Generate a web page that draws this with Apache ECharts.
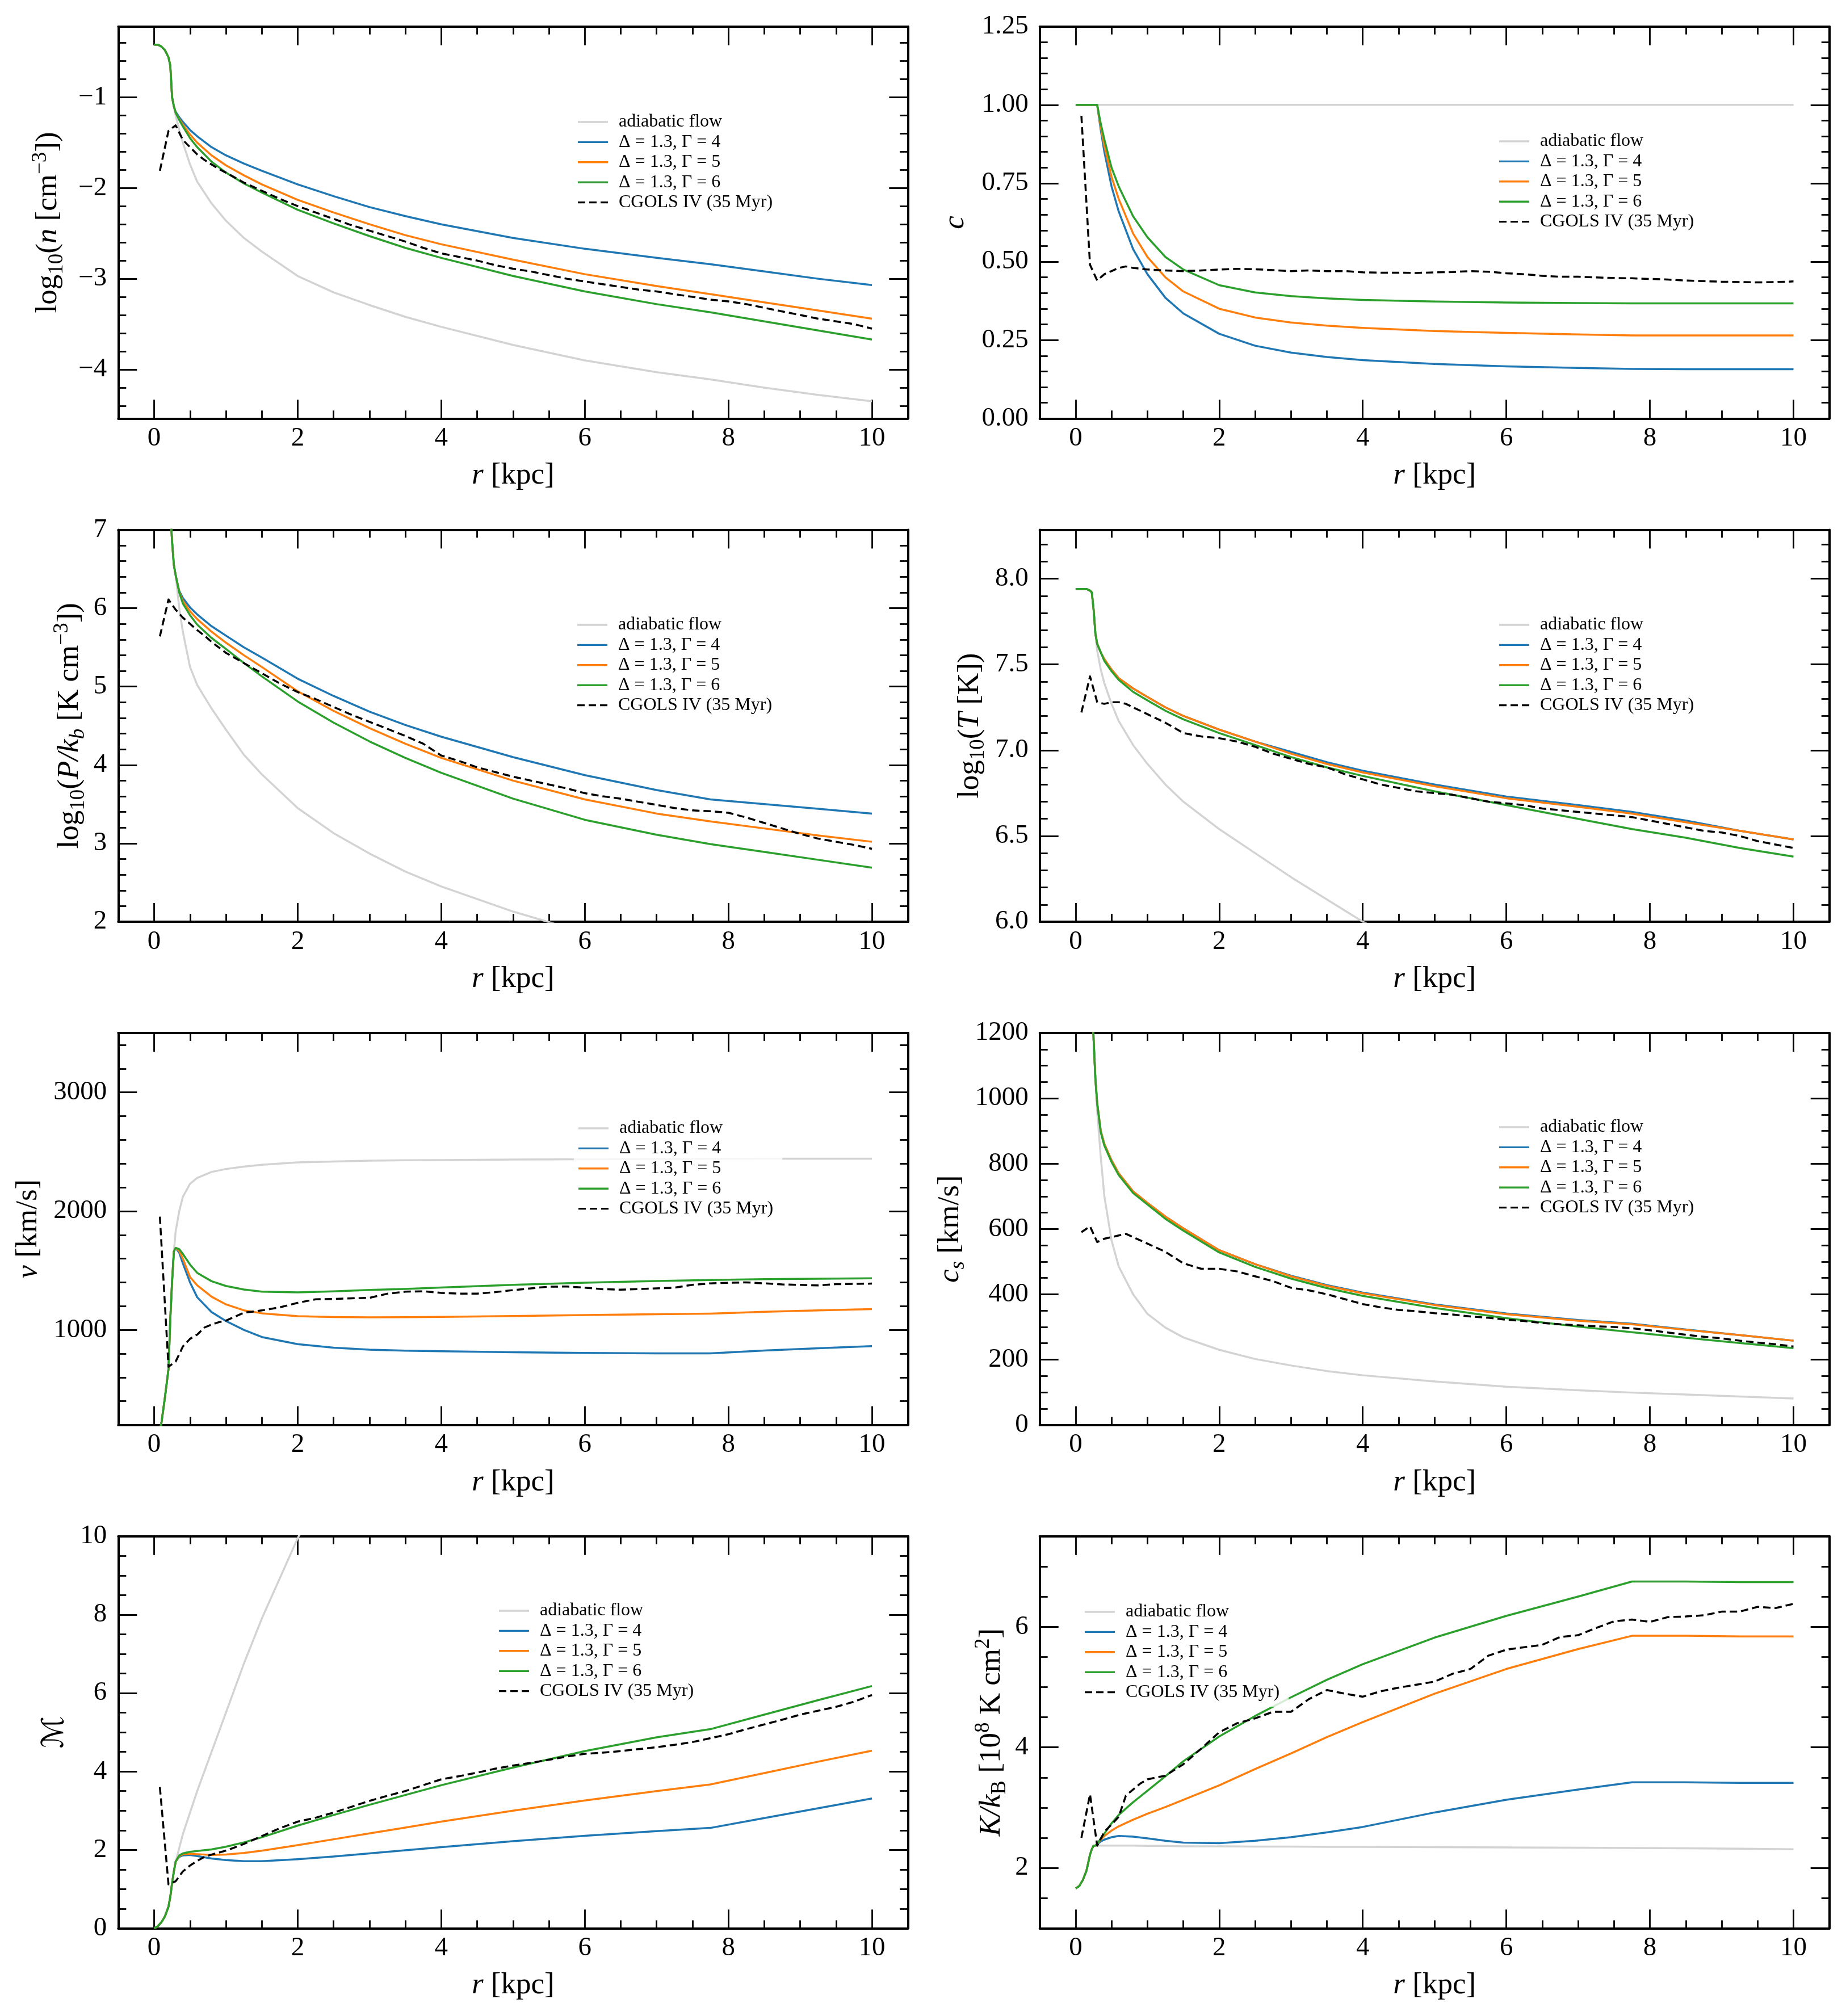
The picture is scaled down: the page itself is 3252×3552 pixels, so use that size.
<!DOCTYPE html>
<html><head><meta charset="utf-8">
<script src="https://cdn.jsdelivr.net/npm/echarts@6/dist/echarts.min.js"></script>
<style>html,body{margin:0;padding:0;background:#fff}#c{width:3252px;height:3552px}</style>
</head><body><div id="c"></div>
<script>
// ---------------- data ----------------
const R_MODEL = [0,0.05,0.1,0.15,0.2,0.225,0.25,0.275,0.3, 0.35,0.4,0.5,0.6,0.8,1,1.25,1.5, 2,2.5,3,3.5,4, 5,6,7,7.75,8.5,9.25,10];
const R_CGOLS = [0.08,0.2,0.3,0.4,0.5,0.6,0.7,0.8,0.9,1,1.25,1.5,1.75,2,2.25,2.5,2.75,3,3.25,3.5,3.75,4,4.25,4.5,4.75,5,5.25,5.5,5.75,6,6.25,6.5,6.75,7,7.25,7.5,7.75,8,8.25,8.5,8.75,9,9.25,9.5,9.75,10];
const SERIES_NAMES = ['adiabatic flow','Δ = 1.3, Γ = 4','Δ = 1.3, Γ = 5','Δ = 1.3, Γ = 6','CGOLS IV (35 Myr)'];

// log10 n
const N_ADIA = [-0.42,-0.42,-0.44,-0.48,-0.56,-0.65,-1.00,-1.10,-1.20, -1.36,-1.50,-1.74,-1.93,-2.17,-2.36,-2.55,-2.70, -2.97,-3.15,-3.29,-3.42,-3.53, -3.73,-3.90,-4.03,-4.11,-4.20,-4.28,-4.35];
const N_D4 = [-0.42,-0.42,-0.44,-0.48,-0.56,-0.65,-1.00,-1.10,-1.16, -1.22,-1.27,-1.36,-1.43,-1.55,-1.64,-1.73,-1.81, -1.96,-2.09,-2.21,-2.31,-2.40, -2.55,-2.67,-2.77,-2.84,-2.92,-3.00,-3.07];
const N_D5 = [-0.42,-0.42,-0.44,-0.48,-0.56,-0.65,-1.00,-1.10,-1.17, -1.24,-1.30,-1.41,-1.50,-1.64,-1.75,-1.86,-1.96, -2.13,-2.27,-2.40,-2.52,-2.62, -2.79,-2.95,-3.08,-3.17,-3.26,-3.35,-3.44];
const N_D6 = [-0.42,-0.42,-0.44,-0.48,-0.56,-0.65,-1.00,-1.10,-1.17, -1.25,-1.32,-1.45,-1.55,-1.71,-1.83,-1.95,-2.05, -2.24,-2.39,-2.53,-2.66,-2.77, -2.97,-3.14,-3.28,-3.37,-3.47,-3.57,-3.67];
const N_CG = [-1.81,-1.37,-1.31,-1.47,-1.55,-1.63,-1.69,-1.74,-1.79,-1.83,-1.94,-2.03,-2.12,-2.20,-2.27,-2.34,-2.41,-2.47,-2.53,-2.59,-2.66,-2.72,-2.76,-2.80,-2.85,-2.89,-2.92,-2.96,-3.00,-3.03,-3.06,-3.09,-3.12,-3.14,-3.17,-3.20,-3.23,-3.25,-3.28,-3.32,-3.36,-3.40,-3.44,-3.47,-3.50,-3.55];

// c
const C_ADIA = [1,1,1,1,1,1,1,1,1, 1,1,1,1,1,1,1,1, 1,1,1,1,1, 1,1,1,1,1,1,1];
const C_D4 = [1,1,1,1,1,1,1,1,1, 0.92,0.85,0.74,0.66,0.54,0.46,0.385,0.335, 0.27,0.232,0.21,0.196,0.186, 0.174,0.166,0.161,0.158,0.157,0.157,0.157];
const C_D5 = [1,1,1,1,1,1,1,1,1, 0.93,0.87,0.77,0.70,0.59,0.515,0.45,0.405, 0.35,0.322,0.306,0.296,0.289, 0.279,0.273,0.268,0.265,0.265,0.265,0.265];
const C_D6 = [1,1,1,1,1,1,1,1,1, 0.94,0.89,0.80,0.74,0.645,0.578,0.515,0.475, 0.425,0.402,0.39,0.383,0.378, 0.373,0.370,0.368,0.367,0.367,0.367,0.367];
const C_CG = [0.965,0.49,0.44,0.46,0.47,0.48,0.485,0.48,0.478,0.475,0.472,0.47,0.472,0.475,0.477,0.476,0.473,0.47,0.472,0.47,0.47,0.466,0.465,0.465,0.464,0.466,0.467,0.47,0.468,0.463,0.46,0.455,0.452,0.452,0.45,0.448,0.447,0.445,0.443,0.44,0.438,0.436,0.435,0.434,0.435,0.437];

// log10 P/kb
const P_ADIA = [7.49,7.49,7.49,7.48,7.40,7.25,6.85,6.55,6.42, 6.00,5.70,5.25,5.02,4.72,4.45,4.13,3.88, 3.45,3.13,2.87,2.64,2.45, 2.13,1.86,null,null,null,null,null];
const P_D4 = [7.49,7.49,7.49,7.48,7.40,7.25,6.85,6.55,6.42, 6.22,6.13,6.01,5.92,5.77,5.65,5.50,5.37, 5.10,4.88,4.68,4.51,4.36, 4.10,3.87,3.68,3.56,3.50,3.44,3.38];
const P_D5 = [7.49,7.49,7.49,7.48,7.40,7.25,6.85,6.55,6.42, 6.21,6.09,5.96,5.86,5.70,5.56,5.40,5.25, 4.94,4.69,4.47,4.27,4.09, 3.80,3.56,3.38,3.28,3.19,3.10,3.02];
const P_D6 = [7.49,7.49,7.49,7.48,7.40,7.25,6.85,6.55,6.42, 6.20,6.06,5.91,5.79,5.62,5.48,5.30,5.13, 4.81,4.54,4.30,4.09,3.90, 3.57,3.30,3.11,2.99,2.89,2.79,2.69];
const P_CG = [5.64,6.11,5.98,5.88,5.80,5.72,5.65,5.57,5.50,5.43,5.30,5.17,5.04,4.93,4.84,4.74,4.64,4.55,4.46,4.37,4.27,4.12,4.05,3.97,3.91,3.85,3.80,3.75,3.70,3.64,3.60,3.57,3.53,3.49,3.45,3.42,3.41,3.39,3.33,3.26,3.19,3.12,3.06,3.02,2.98,2.93];

// log10 T
const T_ADIA = [7.94,7.94,7.94,7.94,7.93,7.92,7.82,7.68,7.58, 7.47,7.39,7.27,7.17,7.03,6.92,6.80,6.70, 6.54,6.40,6.26,6.13,6.00, 5.80,null,null,null,null,null,null];
const T_D4 = [7.94,7.94,7.94,7.94,7.93,7.92,7.82,7.68,7.62, 7.57,7.53,7.47,7.42,7.36,7.31,7.25,7.20, 7.12,7.05,6.99,6.93,6.88, 6.80,6.73,6.68,6.64,6.59,6.53,6.48];
const T_D5 = [7.94,7.94,7.94,7.94,7.93,7.92,7.82,7.68,7.62, 7.57,7.53,7.47,7.42,7.36,7.31,7.25,7.20, 7.12,7.05,6.98,6.92,6.87, 6.79,6.72,6.67,6.63,6.58,6.53,6.48];
const T_D6 = [7.94,7.94,7.94,7.94,7.93,7.92,7.82,7.68,7.62, 7.57,7.52,7.46,7.41,7.34,7.29,7.23,7.18, 7.10,7.03,6.96,6.90,6.85, 6.76,6.68,6.60,6.54,6.49,6.43,6.38];
const T_CG = [7.22,7.43,7.28,7.27,7.28,7.28,7.27,7.25,7.23,7.21,7.16,7.10,7.08,7.07,7.05,7.02,6.98,6.95,6.92,6.90,6.86,6.83,6.80,6.78,6.76,6.75,6.74,6.72,6.70,6.69,6.68,6.66,6.65,6.64,6.63,6.62,6.61,6.59,6.57,6.55,6.53,6.52,6.50,6.47,6.45,6.43];

// v [km/s]
const V_ADIA = [0,50,210,430,670,1090,1407,1660,1830, 2000,2120,2230,2280,2330,2355,2375,2390, 2410,2418,2425,2428,2430, 2434,2437,2439,2440,2441,2442,2442];
const V_D4 = [0,50,210,430,670,1090,1407,1660,1690, 1650,1560,1400,1275,1150,1075,1000,940, 880,850,834,825,820, 812,806,803,802,826,845,863];
const V_D5 = [0,50,210,430,670,1090,1407,1660,1690, 1665,1600,1445,1375,1280,1215,1165,1140, 1115,1108,1106,1107,1109, 1117,1125,1132,1137,1152,1165,1175];
const V_D6 = [0,50,210,430,670,1090,1407,1660,1690, 1680,1640,1550,1480,1410,1370,1340,1322, 1316,1325,1337,1345,1357, 1380,1398,1412,1420,1427,1431,1434];
const V_CG = [1954,690,733,860,925,960,1020,1045,1065,1078,1145,1164,1190,1228,1258,1260,1266,1270,1305,1322,1325,1312,1305,1305,1318,1335,1350,1364,1365,1356,1343,1339,1344,1350,1356,1380,1392,1397,1400,1392,1383,1379,1375,1385,1388,1390];

// c_s [km/s]
const CS_ADIA = [1405,1405,1405,1405,1400,1390,1180,1060,960, 820,700,565,485,400,340,298,268, 230,202,182,165,152, 133,117,106,99,93,87,81];
const CS_D4 = [1405,1405,1405,1405,1400,1390,1180,1060,985, 900,860,810,770,715,680,638,602, 535,492,457,428,405, 369,341,321,310,292,275,258];
const CS_D5 = [1405,1405,1405,1405,1400,1390,1180,1060,985, 900,860,810,770,715,680,638,602, 535,492,455,426,403, 367,339,319,308,291,275,258];
const CS_D6 = [1405,1405,1405,1405,1400,1390,1180,1060,985, 895,855,805,765,710,675,631,595, 528,484,448,419,395, 358,327,301,284,267,251,235];
const CS_CG = [590,608,560,570,575,580,585,575,565,555,530,495,478,478,470,455,440,420,412,400,385,370,360,352,348,342,338,332,328,322,318,312,308,305,302,300,296,290,283,276,270,265,258,252,247,240];

// Mach number
const M_ADIA = [0,0.05,0.15,0.3,0.55,0.8,1.15,1.45,1.7, 2.05,2.4,2.95,3.5,4.5,5.5,6.75,7.9, 9.95,11.8,null,null,null, null,null,null,null,null,null,null];
const M_D4 = [0,0.05,0.15,0.3,0.55,0.8,1.15,1.45,1.7, 1.82,1.86,1.87,1.84,1.78,1.74,1.71,1.71, 1.76,1.83,1.91,1.99,2.07, 2.22,2.36,2.48,2.56,2.81,3.06,3.31];
const M_D5 = [0,0.05,0.15,0.3,0.55,0.8,1.15,1.45,1.7, 1.84,1.89,1.90,1.89,1.87,1.88,1.92,1.98, 2.12,2.27,2.42,2.57,2.72, 3.00,3.26,3.50,3.67,3.96,4.25,4.53];
const M_D6 = [0,0.05,0.15,0.3,0.55,0.8,1.15,1.45,1.7, 1.86,1.91,1.95,1.97,2.01,2.08,2.19,2.32, 2.62,2.89,3.15,3.40,3.65, 4.10,4.52,4.87,5.08,5.45,5.82,6.18];
const M_CG = [3.6,1.12,1.2,1.45,1.6,1.72,1.82,1.88,1.93,1.98,2.15,2.35,2.55,2.72,2.82,2.95,3.1,3.25,3.38,3.5,3.65,3.8,3.88,3.97,4.07,4.15,4.22,4.3,4.38,4.45,4.48,4.52,4.57,4.62,4.68,4.75,4.85,4.95,5.08,5.2,5.32,5.45,5.55,5.65,5.78,5.95];

// entropy K/kB [1e8 K cm^2]
const K_ADIA = [1.66,1.70,1.80,1.95,2.22,2.31,2.37,2.37,2.37, 2.37,2.37,2.37,2.37,2.37,2.365,2.365,2.36, 2.36,2.355,2.355,2.35,2.35, 2.345,2.34,2.335,2.33,2.325,2.32,2.31];
const K_D4 = [1.66,1.70,1.80,1.95,2.22,2.31,2.37,2.37,2.39, 2.44,2.47,2.51,2.53,2.52,2.49,2.45,2.42, 2.41,2.45,2.51,2.59,2.68, 2.92,3.13,3.30,3.42,3.42,3.41,3.41];
const K_D5 = [1.66,1.70,1.80,1.95,2.22,2.31,2.37,2.37,2.40, 2.47,2.53,2.62,2.69,2.80,2.90,3.01,3.13, 3.37,3.64,3.90,4.17,4.42, 4.89,5.30,5.63,5.85,5.85,5.84,5.84];
const K_D6 = [1.66,1.70,1.80,1.95,2.22,2.31,2.37,2.37,2.40, 2.49,2.57,2.74,2.88,3.09,3.28,3.52,3.77, 4.18,4.52,4.83,5.12,5.38, 5.82,6.18,6.50,6.75,6.75,6.74,6.74];
const K_CG = [2.5,3.22,2.37,2.6,2.72,2.85,3.2,3.3,3.4,3.47,3.53,3.72,3.98,4.25,4.40,4.48,4.59,4.59,4.80,4.95,4.89,4.84,4.93,4.99,5.04,5.09,5.22,5.30,5.52,5.62,5.66,5.70,5.83,5.86,5.98,6.09,6.12,6.08,6.16,6.17,6.19,6.25,6.25,6.33,6.31,6.38];

const X_TICKS = [0,2,4,6,8,10];
const Y_TICKS_N = [-4,-3,-2,-1];
const Y_TICKS_C = [0,0.25,0.5,0.75,1.0,1.25];
const Y_TICKS_P = [2,3,4,5,6,7];
const Y_TICKS_T = [6.0,6.5,7.0,7.5,8.0];
const Y_TICKS_V = [1000,2000,3000];
const Y_TICKS_CS = [0,200,400,600,800,1000,1200];
const Y_TICKS_M = [0,2,4,6,8,10];
const Y_TICKS_K = [2,4,6];

// ---------------- layout / style ----------------
const FONT = '"Liberation Serif", "DejaVu Serif", "DejaVu Sans", serif';
const COLORS = ['#d3d3d3','#1f77b4','#ff7f0e','#2ca02c','#000000'];
const GRID_LEFT = [208.3, 1831.7], GRID_W = 1391;
const GRID_TOP = [46.7, 933.4, 1820, 2706.8], GRID_H = 690.6;
const XMIN = -0.5, XMAX = 10.5;

const minus = s => String(s).replace('-', '\u2212');
const panels = [
  {series:[N_ADIA,N_D4,N_D5,N_D6,N_CG], ymin:-4.54, ymax:-0.22, major:Y_TICKS_N, minorStep:0.2, fmt:v=>minus(v),
   name:'{t|log}{s|10}{t|(}{i|n}{t| [cm}{p|\u22123}{t|])}', gap:90, legend:[1018,215]},
  {series:[C_ADIA,C_D4,C_D5,C_D6,C_CG], ymin:0, ymax:1.25, major:Y_TICKS_C, minorStep:0.05, fmt:v=>v.toFixed(2),
   name:'{i|c}', gap:116, legend:[2641,249]},
  {series:[P_ADIA,P_D4,P_D5,P_D6,P_CG], ymin:2, ymax:7, major:Y_TICKS_P, minorStep:0.2, fmt:v=>String(v),
   name:'{t|log}{s|10}{t|(}{i|P/k}{si|b}{t| [K cm}{p|\u22123}{t|])}', gap:52, legend:[1017,1101]},
  {series:[T_ADIA,T_D4,T_D5,T_D6,T_CG], ymin:6.0, ymax:8.285, major:Y_TICKS_T, minorStep:0.1, fmt:v=>v.toFixed(1),
   name:'{t|log}{s|10}{t|(}{i|T}{t| [K])}', gap:90, legend:[2641,1101]},
  {series:[V_ADIA,V_D4,V_D5,V_D6,V_CG], ymin:200, ymax:3500, major:Y_TICKS_V, minorStep:200, fmt:v=>String(v),
   name:'{i|v}{t| [km/s]}', gap:125, legend:[1019,1988]},
  {series:[CS_ADIA,CS_D4,CS_D5,CS_D6,CS_CG], ymin:0, ymax:1200, major:Y_TICKS_CS, minorStep:50, fmt:v=>String(v),
   name:'{i|c}{si|s}{t| [km/s]}', gap:125, legend:[2641,1986]},
  {series:[M_ADIA,M_D4,M_D5,M_D6,M_CG], ymin:0, ymax:10, major:Y_TICKS_M, minorStep:0.5, fmt:v=>String(v),
   name:'{t|\u2133}', gap:78, legend:[879,2838]},
  {series:[K_ADIA,K_D4,K_D5,K_D6,K_CG], ymin:1.0, ymax:7.5, major:Y_TICKS_K, minorStep:0.5, fmt:v=>String(v),
   name:'{i|K/k}{s|B}{t| [10}{p|8}{t| K cm}{p|2}{t|]}', gap:52, legend:[1911,2840]}
];

function minorTicks(lo, hi, step, majors) {
  const out = [];
  const k0 = Math.ceil(lo / step - 1e-9), k1 = Math.floor(hi / step + 1e-9);
  for (let k = k0; k <= k1; k++) {
    const v = Math.round(k * step * 1e6) / 1e6;
    if (!majors.some(m => Math.abs(m - v) < 1e-9)) out.push(v);
  }
  return out;
}

const NAME_FS = 53, SUB_FS = 37;
const rich = {
  t:{fontFamily:FONT, fontSize:NAME_FS, lineHeight:66, color:'#000'},
  i:{fontFamily:FONT, fontSize:NAME_FS, lineHeight:66, color:'#000', fontStyle:'italic'},
  s:{fontFamily:FONT, fontSize:SUB_FS, lineHeight:37, color:'#000', verticalAlign:'bottom'},
  si:{fontFamily:FONT, fontSize:SUB_FS, lineHeight:37, color:'#000', verticalAlign:'bottom', fontStyle:'italic'},
  p:{fontFamily:FONT, fontSize:SUB_FS, lineHeight:37, color:'#000', verticalAlign:'top'}
};

const grid = [], xAxis = [], yAxis = [], series = [], legend = [];
const TICK_STYLE = {color:'#000', width:2.8};
const AXIS_LINE = {show:true, onZero:false, lineStyle:{color:'#000', width:4}};
const X_MINOR = minorTicks(XMIN, XMAX, 0.5, X_TICKS);

panels.forEach((p, i) => {
  const col = i % 2, row = Math.floor(i / 2);
  grid.push({left:GRID_LEFT[col], top:GRID_TOP[row], width:GRID_W, height:GRID_H, outerBoundsMode:'none', containLabel:false});
  const xb = {type:'value', gridIndex:i, min:XMIN, max:XMAX, splitLine:{show:false}, axisLine:{show:false, onZero:false}, axisLabel:{show:false}};
  xAxis.push(
    Object.assign({}, xb, {position:'bottom', axisLine:AXIS_LINE,
      axisTick:{show:true, inside:true, length:33, lineStyle:TICK_STYLE, customValues:X_TICKS},
      axisLabel:{show:true, customValues:X_TICKS, margin:12, fontFamily:FONT, fontSize:47, color:'#000'},
      name:'{i|r}{t| [kpc]}', nameLocation:'middle', nameGap:68, nameTextStyle:{fontFamily:FONT, fontSize:NAME_FS, color:'#000', rich}}),
    Object.assign({}, xb, {position:'bottom', axisTick:{show:true, inside:true, length:14, lineStyle:TICK_STYLE, customValues:X_MINOR}}),
    Object.assign({}, xb, {position:'top', axisLine:AXIS_LINE, axisTick:{show:true, inside:true, length:33, lineStyle:TICK_STYLE, customValues:X_TICKS}}),
    Object.assign({}, xb, {position:'top', axisTick:{show:true, inside:true, length:14, lineStyle:TICK_STYLE, customValues:X_MINOR}})
  );
  const yMinor = minorTicks(p.ymin, p.ymax, p.minorStep, p.major);
  const yb = {type:'value', gridIndex:i, min:p.ymin, max:p.ymax, splitLine:{show:false}, axisLine:{show:false, onZero:false}, axisLabel:{show:false}};
  yAxis.push(
    Object.assign({}, yb, {position:'left', axisLine:AXIS_LINE,
      axisTick:{show:true, inside:true, length:33, lineStyle:TICK_STYLE, customValues:p.major},
      axisLabel:{show:true, customValues:p.major, margin:20, fontFamily:FONT, fontSize:47, color:'#000', formatter:p.fmt},
      name:p.name, nameLocation:'middle', nameGap:p.gap, nameTextStyle:{fontFamily:FONT, fontSize:NAME_FS, color:'#000', rich}}),
    Object.assign({}, yb, {position:'left', axisTick:{show:true, inside:true, length:14, lineStyle:TICK_STYLE, customValues:yMinor}}),
    Object.assign({}, yb, {position:'right', axisLine:AXIS_LINE, axisTick:{show:true, inside:true, length:33, lineStyle:TICK_STYLE, customValues:p.major}}),
    Object.assign({}, yb, {position:'right', axisTick:{show:true, inside:true, length:14, lineStyle:TICK_STYLE, customValues:yMinor}})
  );
  p.series.forEach((arr, k) => {
    const xs = k === 4 ? R_CGOLS : R_MODEL;
    series.push({
      type:'line', name:SERIES_NAMES[k], xAxisIndex:4*i, yAxisIndex:4*i,
      data: xs.map((x, j) => [x, arr[j]]),
      symbol:'none', showSymbol:false, smooth:false, clip:true, silent:true, animation:false,
      lineStyle:{color:COLORS[k], width:3.5, type: k === 4 ? [13, 7] : 'solid', cap:'butt', join:'round'},
      itemStyle:{color:COLORS[k]}
    });
  });
  legend.push({
    show:true, orient:'vertical', left:p.legend[0]-8, top:p.legend[1]-17.7-8,
    padding:[8,16,8,8], backgroundColor:'rgba(255,255,255,0.8)', borderWidth:0,
    itemGap:0, itemWidth:53, itemHeight:3.4, selectedMode:false, icon:'rect',
    itemStyle:{borderWidth:0},
    textStyle:{fontFamily:FONT, fontSize:32, lineHeight:35.4, color:'#000', padding:[0,0,0,14]},
    data: SERIES_NAMES.map((n, k) => k === 4
      ? {name:n, icon:'path://M0,0h13v3.4h-13z M20,0h13v3.4h-13z M40,0h13v3.4h-13z'}
      : {name:n})
  });
});

const chart = echarts.init(document.getElementById('c'), null, {renderer:'canvas'});
chart.setOption({backgroundColor:'#ffffff', animation:false, grid, xAxis, yAxis, series, legend});
</script>
</body></html>
